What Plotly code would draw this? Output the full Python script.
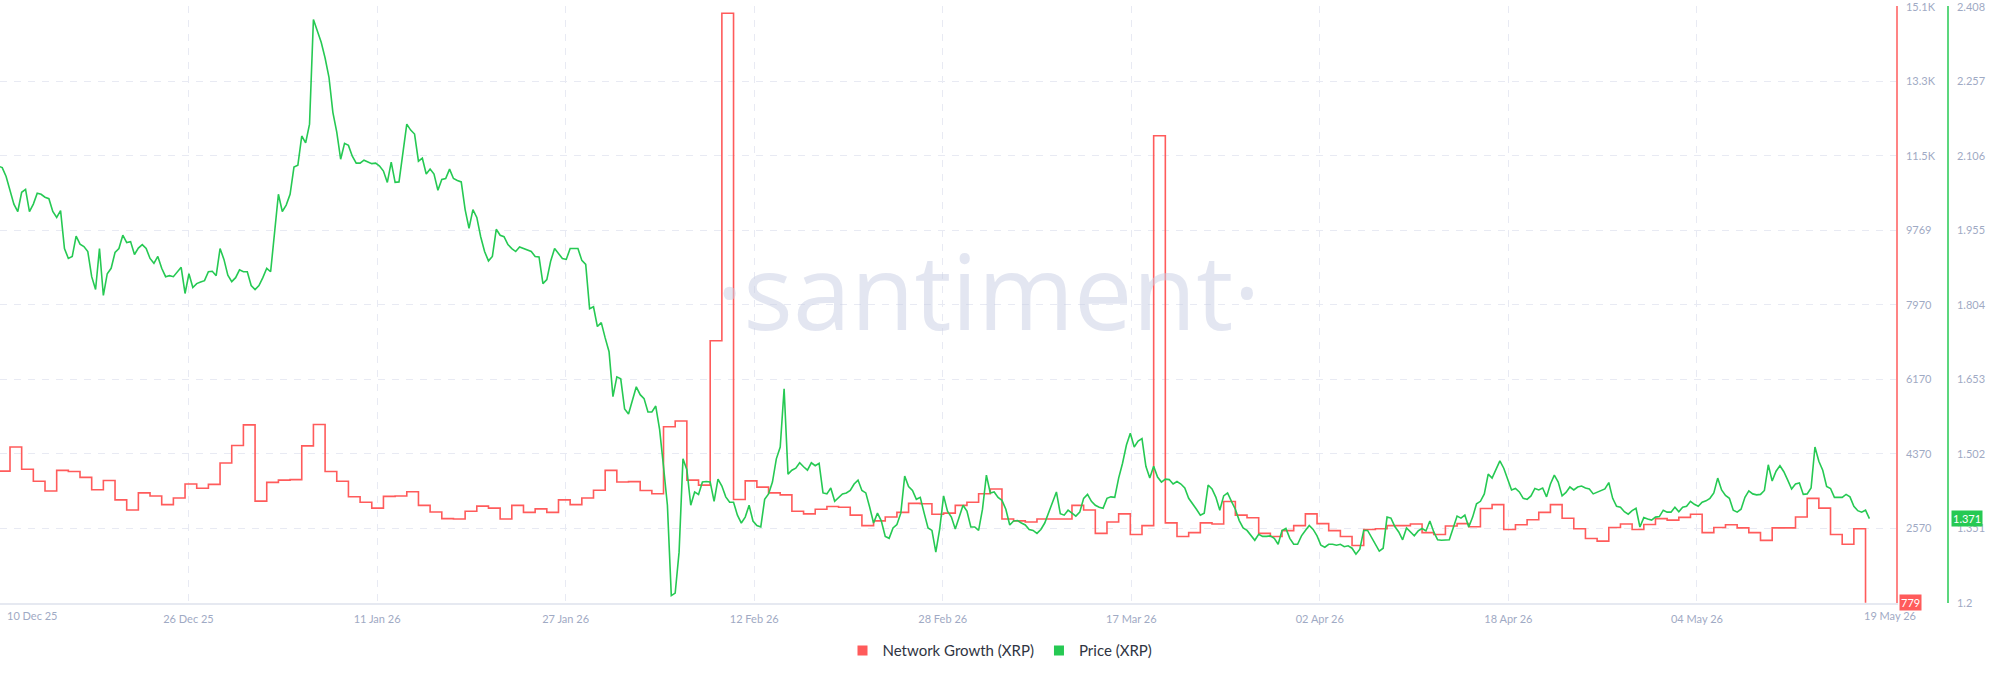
import plotly.graph_objects as go
import pandas as pd

# ---------------- data ----------------
# Daily network growth (XRP), 10 Dec 2025 .. 19 May 2026
network_growth = [
    3954, 4537, 4001, 3710, 3475, 3973, 3945, 3804, 3503, 3729, 3259, 3015, 3428, 3353, 3146, 3306,
    3644, 3541, 3635, 4151, 4574, 5072,
    3231, 3682, 3738, 3748, 4565, 5081, 3945, 3710, 3334, 3203, 3062, 3344, 3353, 3456, 3128, 2968,
    2808, 2799, 2987, 3109, 3062, 2799, 3128, 2959, 3043, 2959, 3259, 3146, 3306, 3494, 3973,
    3691, 3701, 3485, 3409, 5025, 5166, 3738, 3616, 7101, 15010, 3268, 3719, 3569, 3428, 3381, 2987,
    2921, 3034, 3100, 3081, 2893, 2639, 2752, 2846, 2959, 3175, 3165, 2912,
    2940, 3128, 3203, 3409, 3522, 2799, 2752, 2724, 2799, 2799, 2799, 3128, 3015, 2451, 2724, 2921,
    2423, 2639, 12051, 2705, 2376, 2470, 2705, 2677, 3222, 2893, 2827, 2451, 2376, 2517, 2639,
    2921, 2686, 2517, 2376, 2160, 2545, 2564, 2639, 2639, 2677, 2470, 2423, 2630, 2686, 2611, 3053,
    3146, 2545, 2658, 2780, 2959, 3146, 2818, 2564, 2329, 2263, 2592, 2677, 2545, 2667,
    2808, 2771, 2837, 2912, 2470, 2592, 2658, 2583, 2470, 2282, 2583, 2583, 2846, 3297, 3062, 2423,
    2188, 2564, 779,
]

# XRP price every 8 hours, 10 Dec 2025 00:00 .. 19 May 2026 08:00
price_xrp = [
    2.085,
    2.082, 2.064, 2.036, 2.008, 1.993, 2.032, 2.038, 1.993, 2.008, 2.030,
    2.028, 2.022, 2.019, 1.993, 1.981, 1.995, 1.918, 1.898, 1.902, 1.943,
    1.927, 1.922, 1.912, 1.861, 1.835, 1.918, 1.823, 1.867, 1.878, 1.910,
    1.918, 1.945, 1.930, 1.932, 1.906, 1.919, 1.926, 1.918, 1.898, 1.888,
    1.902, 1.878, 1.861, 1.863, 1.861, 1.871, 1.880, 1.827, 1.867, 1.839,
    1.847, 1.850, 1.853, 1.871, 1.872, 1.863, 1.918, 1.896, 1.864, 1.851,
    1.859, 1.875, 1.871, 1.871, 1.843, 1.835, 1.843, 1.859, 1.878, 1.871,
    1.949, 2.028, 1.993, 2.006, 2.028, 2.083, 2.087, 2.146, 2.132, 2.170,
    2.382, 2.360, 2.336, 2.304, 2.265,
    2.194, 2.154, 2.099, 2.131, 2.127, 2.105, 2.091, 2.091, 2.097, 2.093,
    2.090, 2.091, 2.085, 2.075, 2.052, 2.093, 2.052, 2.053, 2.107, 2.170,
    2.158, 2.150, 2.095, 2.101, 2.069, 2.079, 2.069, 2.036, 2.058, 2.060,
    2.079, 2.060, 2.056, 2.053, 1.997, 1.959, 1.997, 1.981, 1.942, 1.912,
    1.893, 1.902, 1.957, 1.945, 1.942, 1.926, 1.918, 1.912, 1.921, 1.918,
    1.914, 1.912, 1.902, 1.901, 1.847, 1.855, 1.893, 1.918, 1.908, 1.898,
    1.896, 1.918, 1.918, 1.918, 1.894, 1.886, 1.796, 1.800, 1.760, 1.768,
    1.737, 1.709, 1.618, 1.658, 1.654, 1.593, 1.583, 1.611, 1.638, 1.622,
    1.614, 1.587,
    1.587, 1.599, 1.551, 1.476, 1.398, 1.215, 1.220, 1.303, 1.492, 1.470,
    1.398, 1.425, 1.420, 1.445, 1.446, 1.445, 1.406, 1.451, 1.437, 1.415,
    1.404, 1.404, 1.378, 1.362, 1.374, 1.398, 1.366, 1.357, 1.354, 1.410,
    1.421, 1.445, 1.492, 1.516, 1.634, 1.461, 1.469, 1.473, 1.484, 1.476,
    1.469, 1.484, 1.478, 1.483, 1.423, 1.421, 1.433, 1.406, 1.414, 1.421,
    1.423, 1.428, 1.441, 1.449, 1.428, 1.423, 1.394, 1.362, 1.382, 1.366,
    1.335, 1.331, 1.352, 1.359, 1.382, 1.457, 1.436, 1.428, 1.410, 1.414,
    1.382, 1.352, 1.347, 1.303, 1.350, 1.417, 1.386, 1.374, 1.350, 1.374,
    1.398, 1.386,
    1.354, 1.354, 1.347, 1.390, 1.459, 1.423, 1.425, 1.414, 1.408, 1.390,
    1.358, 1.366, 1.367, 1.362, 1.358, 1.349, 1.347, 1.341, 1.349, 1.362,
    1.382, 1.402, 1.425, 1.381, 1.378, 1.388, 1.382, 1.376, 1.384, 1.412,
    1.420, 1.406, 1.398, 1.394, 1.392, 1.412, 1.415, 1.414, 1.453, 1.483,
    1.520, 1.544, 1.516, 1.528, 1.533, 1.477, 1.453, 1.477, 1.455, 1.445,
    1.451, 1.450, 1.441, 1.446, 1.441, 1.433, 1.412, 1.402, 1.390, 1.378,
    1.382, 1.439, 1.431, 1.414, 1.388, 1.417, 1.423, 1.406, 1.390, 1.367,
    1.352, 1.347, 1.336, 1.327, 1.339, 1.335, 1.335, 1.336, 1.331, 1.319,
    1.347, 1.351, 1.331,
    1.319, 1.319, 1.336, 1.347, 1.357, 1.349, 1.336, 1.317, 1.313, 1.319,
    1.319, 1.317, 1.319, 1.314, 1.316, 1.311, 1.299, 1.309, 1.347, 1.347,
    1.332, 1.319, 1.305, 1.311, 1.374, 1.372, 1.355, 1.344, 1.328, 1.352,
    1.343, 1.336, 1.346, 1.351, 1.346, 1.366, 1.344, 1.328, 1.327, 1.327,
    1.328, 1.352, 1.376, 1.372, 1.378, 1.354, 1.374, 1.401, 1.406, 1.421,
    1.461, 1.453, 1.470, 1.488, 1.473, 1.449, 1.429, 1.432, 1.425, 1.412,
    1.410, 1.417, 1.432, 1.429, 1.433, 1.415, 1.441, 1.459, 1.445, 1.417,
    1.424, 1.435, 1.429, 1.435, 1.437, 1.433, 1.431, 1.421, 1.424, 1.428,
    1.431, 1.444,
    1.412, 1.396, 1.394, 1.385, 1.380, 1.387, 1.392, 1.354, 1.373, 1.370,
    1.368, 1.374, 1.375, 1.388, 1.384, 1.384, 1.394, 1.385, 1.394, 1.396,
    1.406, 1.400, 1.396, 1.404, 1.407, 1.412, 1.423, 1.453, 1.429, 1.418,
    1.412, 1.388, 1.384, 1.390, 1.414, 1.427, 1.421, 1.419, 1.420, 1.428,
    1.480, 1.447, 1.467, 1.478, 1.466, 1.449, 1.431, 1.441, 1.443, 1.420,
    1.421, 1.433, 1.516, 1.487, 1.469, 1.436, 1.432, 1.414, 1.414, 1.414,
    1.420, 1.415, 1.396, 1.387, 1.384, 1.388, 1.371,
]

ng_dates = pd.date_range("2025-12-10", periods=len(network_growth), freq="D")
price_times = pd.date_range("2025-12-10", periods=len(price_xrp), freq="8h")

x_range = ["2025-12-10 03:26", "2026-05-21 14:40"]
x_tick_vals = ["2025-12-26 07:05", "2026-01-11 10:56", "2026-01-27 14:40",
               "2026-02-12 18:30", "2026-02-28 22:10", "2026-03-17 02:00",
               "2026-04-02 05:38", "2026-04-18 09:26", "2026-05-04 13:15"]
x_tick_text = ["26 Dec 25", "11 Jan 26", "27 Jan 26", "12 Feb 26", "28 Feb 26",
               "17 Mar 26", "02 Apr 26", "18 Apr 26", "04 May 26"]
x_edge_labels = ["10 Dec 25", "19 May 26"]

ng_range = [770, 15185]
ng_tick_vals = [2570, 4370, 6170, 7970, 9769, 11569, 13369, 15169]
ng_tick_text = ["2570", "4370", "6170", "7970", "9769", "11.5K", "13.3K", "15.1K"]

price_range = [1.2, 2.40934]
price_tick_vals = [1.2, 1.351, 1.502, 1.653, 1.804, 1.955, 2.106, 2.257, 2.408]
price_tick_text = ["1.2", "1.351", "1.502", "1.653", "1.804", "1.955", "2.106", "2.257", "2.408"]

series_names = ["Network Growth (XRP)", "Price (XRP)"]

# ---------------- style ----------------
RED = "#ff5b5b"
GREEN = "#26c953"
GRID = "#e8eaf3"
TICK = "#9faac4"
FONT = "Lato, 'Open Sans', sans-serif"
W, H = 2000, 677
ML, MR, MT, MB = 0, 52, 6, 74
PAPER_W = W - ML - MR
PLOT_W = 1896

fig = go.Figure()
fig.add_trace(go.Scatter(x=ng_dates, y=network_growth, mode="lines",
                         line=dict(color=RED, width=1.6, shape="hv"),
                         yaxis="y", showlegend=False, name=series_names[0]))
fig.add_trace(go.Scatter(x=price_times, y=price_xrp, mode="lines",
                         line=dict(color=GREEN, width=1.6),
                         yaxis="y2", showlegend=False, name=series_names[1]))
# legend swatches
fig.add_trace(go.Scatter(x=[None], y=[None], mode="markers", name=series_names[0],
                         marker=dict(symbol="square", size=10, color=RED), yaxis="y"))
fig.add_trace(go.Scatter(x=[None], y=[None], mode="markers", name=series_names[1],
                         marker=dict(symbol="square", size=10, color=GREEN), yaxis="y2"))

fig.update_layout(
    width=W, height=H,
    margin=dict(l=ML, r=MR, t=MT, b=MB, pad=0),
    paper_bgcolor="white", plot_bgcolor="white",
    font=dict(family=FONT, color=TICK, size=11),
    hovermode=False,
    xaxis=dict(type="date", domain=[0, PLOT_W / PAPER_W], range=x_range,
               tickmode="array", tickvals=x_tick_vals, ticktext=x_tick_text,
               showgrid=True, gridcolor=GRID, griddash="7px,7px", gridwidth=1,
               showline=True, linecolor="#e6e9f1", linewidth=2,
               ticks="", zeroline=False, ticklabelstandoff=5,
               tickfont=dict(size=11, color=TICK)),
    yaxis=dict(side="right", range=ng_range, tickmode="array",
               tickvals=ng_tick_vals, ticktext=ng_tick_text,
               showgrid=True, gridcolor=GRID, griddash="7px,7px", gridwidth=1,
               showline=True, linecolor="rgba(255,91,91,0.75)", linewidth=1.5,
               ticks="", zeroline=False, ticklabelstandoff=6,
               ticklabeloverflow="allow",
               tickfont=dict(size=11, color=TICK)),
    yaxis2=dict(side="right", overlaying="y", anchor="free", position=1.0,
                range=price_range, tickmode="array",
                tickvals=price_tick_vals, ticktext=price_tick_text,
                showgrid=False, showline=True, linecolor="rgba(38,201,83,0.75)",
                linewidth=1.5, ticks="", zeroline=False, ticklabelstandoff=6,
                ticklabeloverflow="allow",
                tickfont=dict(size=11, color=TICK)),
    legend=dict(orientation="h", x=1000 / PAPER_W, xanchor="center",
                y=-0.08, yanchor="middle", itemwidth=30,
                font=dict(size=15, color="#2f3442", family=FONT),
                bgcolor="rgba(0,0,0,0)"),
)

plot_h = H - MT - MB
annotations = [
    # watermark
    dict(text="·santiment·", xref="paper", yref="paper",
         x=988 / PAPER_W, y=(603.5 - 290) / plot_h, xanchor="center", yanchor="middle",
         showarrow=False, font=dict(family="'Open Sans', sans-serif", size=104,
                                    color="rgba(200,206,228,0.5)")),
    # edge date labels
    dict(text=x_edge_labels[0], xref="paper", yref="paper", x=0, xshift=5,
         y=-12.5 / plot_h, xanchor="left", yanchor="middle", showarrow=False,
         font=dict(size=11, color=TICK)),
    dict(text=x_edge_labels[1], xref="paper", yref="paper", x=1890 / PAPER_W,
         y=-12.5 / plot_h, xanchor="center", yanchor="middle", showarrow=False,
         font=dict(size=11, color=TICK)),
    # last value tags
    dict(text=str(network_growth[-1]), xref="paper", yref="y", x=1899 / PAPER_W,
         y=network_growth[-1], xanchor="left", yanchor="middle", showarrow=False,
         bgcolor=RED, borderpad=1, font=dict(size=11, color="white")),
    dict(text=f"{price_xrp[-1]:.3f}", xref="paper", yref="y2", x=1951 / PAPER_W,
         y=price_xrp[-1], xanchor="left", yanchor="middle", showarrow=False,
         bgcolor=GREEN, borderpad=1, font=dict(size=11, color="white")),
]
fig.update_layout(annotations=annotations)

fig.write_html("out.html", include_plotlyjs=True, config={"displayModeBar": False})
